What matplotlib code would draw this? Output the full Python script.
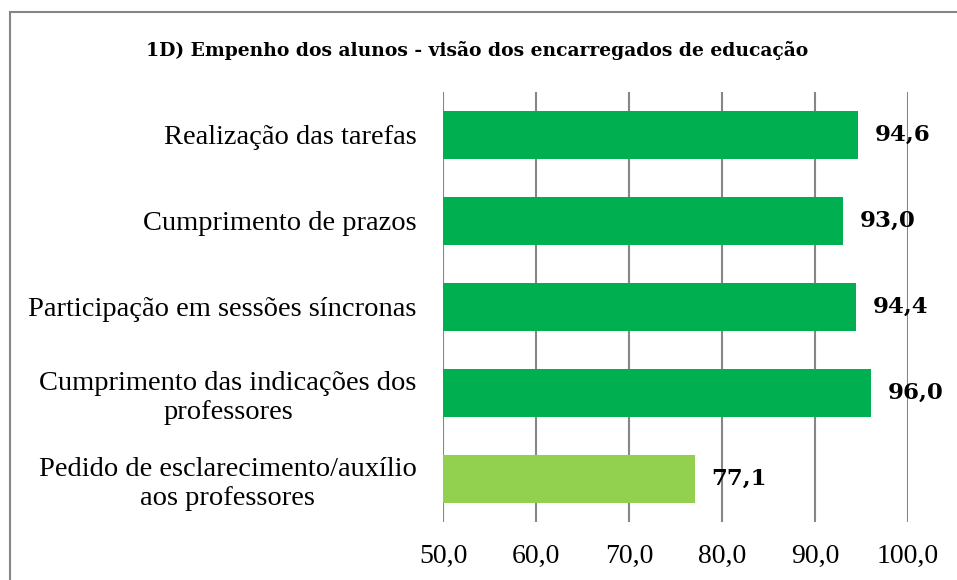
import matplotlib.pyplot as plt
from matplotlib.patches import Rectangle
from matplotlib.ticker import FuncFormatter

DARK_GREEN = "#00b050"
LIGHT_GREEN = "#92d050"
GRID_GRAY = "#868686"

categories = [
    "Realização das tarefas",
    "Cumprimento de prazos",
    "Participação em sessões síncronas",
    "Cumprimento das indicações dos\nprofessores",
    "Pedido de esclarecimento/auxílio\naos professores",
]
values = [94.6, 93.0, 94.4, 96.0, 77.1]
bar_colors = [DARK_GREEN, DARK_GREEN, DARK_GREEN, DARK_GREEN, LIGHT_GREEN]
x_ticks = [50, 60, 70, 80, 90, 100]
title = "1D) Empenho dos alunos - visão dos encarregados de educação"

LABEL_FONT = "Liberation Serif"
BOLD_FONT = "DejaVu Serif"


def comma_fmt(v, _pos):
    return f"{v:.1f}".replace(".", ",")


fig = plt.figure(figsize=(9.57, 5.8), dpi=100)
ax = fig.add_axes([443 / 957, 58 / 580, 465 / 957, 430 / 580])

y = list(range(len(categories)))
ax.barh(y, [v - 50 for v in values], left=50, height=0.56, color=bar_colors, zorder=3)

ax.set_xlim(50, 100)
ax.set_ylim(len(categories) - 0.5, -0.5)
ax.set_xticks(x_ticks)
ax.xaxis.set_major_formatter(FuncFormatter(comma_fmt))
ax.set_yticks(y)
ax.set_yticklabels(categories, fontfamily=LABEL_FONT, fontsize=20.5, multialignment="center")

ax.grid(True, axis="x", color=GRID_GRAY, linewidth=1.5, zorder=0)
for spine in ax.spines.values():
    spine.set_visible(False)
ax.tick_params(axis="both", length=0)
ax.tick_params(axis="x", pad=16, labelsize=20)
ax.tick_params(axis="y", pad=19)
for lbl in ax.get_xticklabels():
    lbl.set_fontfamily(LABEL_FONT)

for yi, v in zip(y, values):
    ax.annotate(comma_fmt(v, None), xy=(v, yi), xytext=(12, 0), textcoords="offset points",
                ha="left", va="center", fontsize=16.5, fontweight="bold", fontfamily=BOLD_FONT,
                zorder=4)

fig.text(0.499, 1 - 50 / 580, title, ha="center", va="center",
         fontsize=13.5, fontweight="bold", fontfamily=BOLD_FONT)

# chart border (right and bottom edges fall outside the picture)
fig.patches.append(Rectangle((9.5 / 957, -0.1), 1.2, 1.1 - 12 / 580, transform=fig.transFigure,
                             fill=False, edgecolor=GRID_GRAY, linewidth=1.5))

fig.savefig("out.png", dpi=100)
